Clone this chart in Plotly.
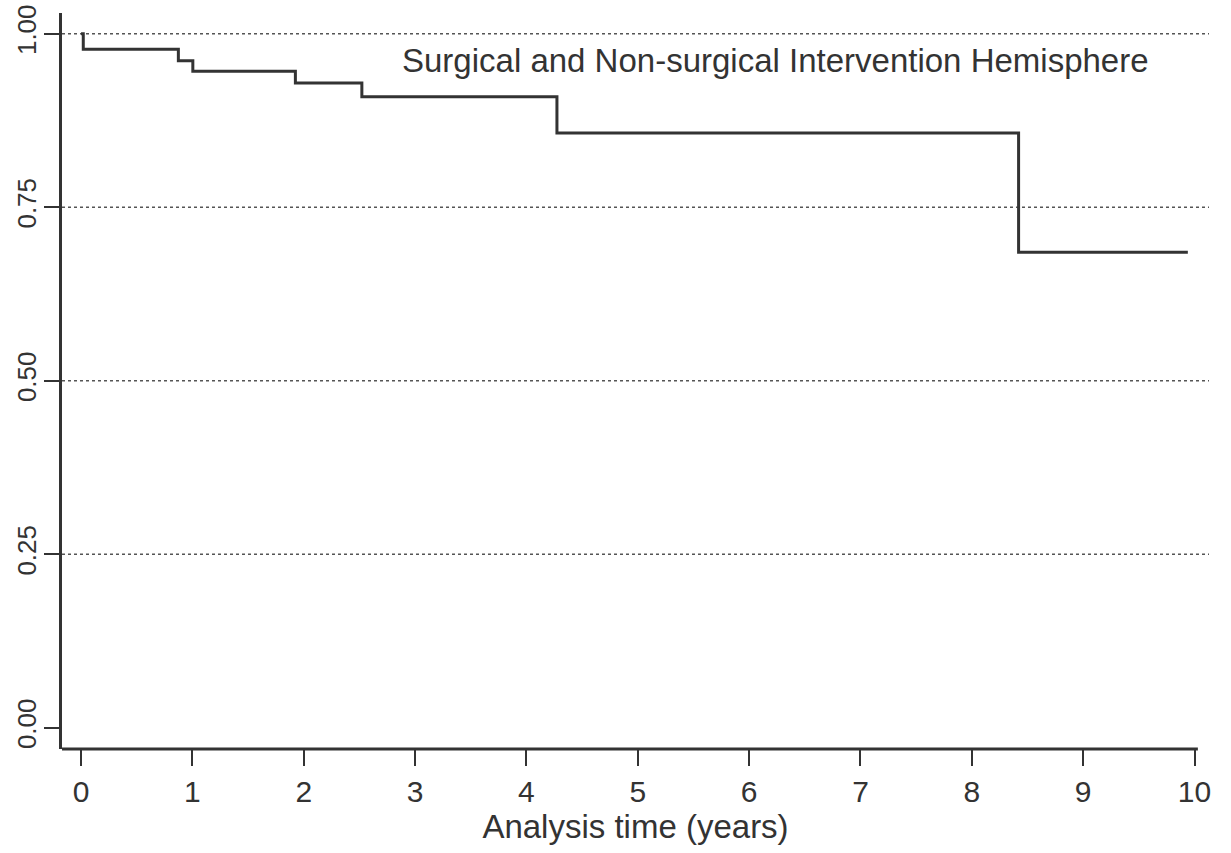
import plotly.graph_objects as go

# Kaplan-Meier step data
event_times = [0.0, 0.02, 0.874, 1.004, 1.925, 2.522, 4.274, 8.42, 9.94]
survival = [1.0, 0.9775, 0.961, 0.946, 0.929, 0.909, 0.857, 0.685, 0.685]

x_ticks = [0, 1, 2, 3, 4, 5, 6, 7, 8, 9, 10]
y_ticks = [0.0, 0.25, 0.50, 0.75, 1.00]
y_tick_labels = ["0.00", "0.25", "0.50", "0.75", "1.00"]
ref_levels = [0.25, 0.50, 0.75, 1.00]

label_text = "Surgical and Non-surgical Intervention Hemisphere"
x_title = "Analysis time (years)"

x_range = [-0.171, 10.13]
y_range = [-0.0307, 1.0298]

FONT = "Liberation Sans, Arial, sans-serif"
DARK = "#333333"

fig = go.Figure()
fig.add_trace(go.Scatter(
    x=event_times, y=survival, mode="lines",
    line=dict(shape="hv", color=DARK, width=3),
    showlegend=False, hoverinfo="skip",
))

shapes = []
for lv in ref_levels:
    shapes.append(dict(type="line", xref="paper", x0=0, x1=1, yref="y", y0=lv, y1=lv,
                       line=dict(color="#555555", width=1.5, dash="dot"), layer="below"))
# bottom axis line ending at the last tick
shapes.append(dict(type="line", xref="x", x0=x_range[0], x1=10.03, yref="paper", y0=0, y1=0,
                   line=dict(color=DARK, width=3)))

fig.update_layout(
    width=1231, height=853,
    margin=dict(l=62, r=22, t=13, b=104),
    paper_bgcolor="white", plot_bgcolor="white",
    font=dict(family=FONT, color=DARK),
    shapes=shapes,
    annotations=[dict(text=label_text, xref="x", yref="y", x=6.24, y=0.962,
                      showarrow=False, font=dict(size=33, color=DARK, family=FONT),
                      xanchor="center", yanchor="middle")],
)
fig.update_xaxes(
    range=x_range, tickvals=x_ticks, ticktext=[str(v) for v in x_ticks],
    showgrid=False, zeroline=False, showline=False, automargin=False,
    ticks="outside", ticklen=16, tickwidth=2, tickcolor=DARK,
    tickfont=dict(size=30, color=DARK), ticklabelstandoff=0,
    title=dict(text=x_title, font=dict(size=33, color=DARK), standoff=2),
)
fig.update_yaxes(
    range=y_range, tickvals=y_ticks, ticktext=y_tick_labels, automargin=False,
    showgrid=False, zeroline=False, showline=True, linewidth=3, linecolor=DARK,
    ticks="outside", ticklen=15, tickwidth=2, tickcolor=DARK,
    tickangle=-90, tickfont=dict(size=26, color=DARK), ticklabelstandoff=-2,
    ticklabeloverflow="allow",
)

# remove the default 8px page margin so the figure fills the window exactly
fig.write_html("out.html", config={"displayModeBar": False},
               post_script="document.body.style.margin='0';")
